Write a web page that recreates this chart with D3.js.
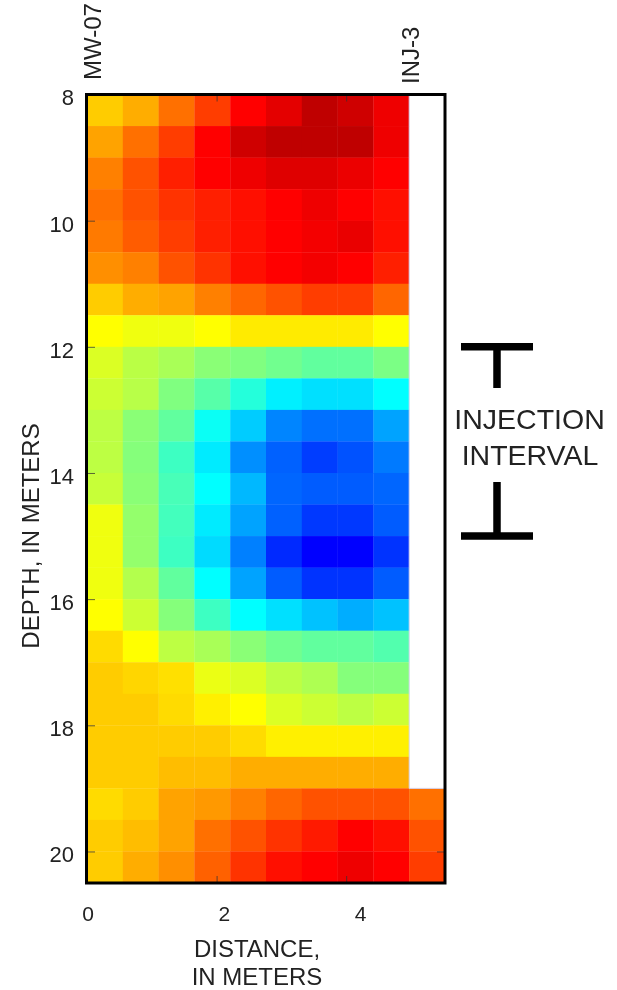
<!DOCTYPE html>
<html><head><meta charset="utf-8">
<script src="https://cdn.jsdelivr.net/npm/d3@7"></script>
<style>html,body{margin:0;padding:0;background:#fff}svg{display:block;filter:blur(0.4px)}text{font-family:"Liberation Sans",Arial,sans-serif}</style>
</head><body><div id="c"></div>
<script>
const xTicks=[0,2,4];
const yTicks=[8,10,12,14,16,18,20];
const depthStart=8, depthStep=0.5;
const colWidth=0.5525;
const rows=[
[80,83,89,94,100,105,112,109,103],
[84,89,94,100,109,112,112,112,103],
[87.5,92,97,100,103,106,106,103.5,100],
[89,92,95,97,98.5,100,103,100,98.5],
[88,91,94,97,98.5,100,102,104,98.5],
[86,87.5,92,95,98.5,100,102,100,97],
[80,83,84,87.5,90,92,94,94,90],
[75,72,72,75,77,77,77,77,75],
[68,61.5,58,52,50,47,44,44,49],
[65,61,50,42,32,23.5,22,22,25],
[62,52,44,27,20,13,11,11,16],
[62,51,37,23,14,9.5,6,8,12],
[64,52,39,25,18,10,9,9,10],
[72,54,38,23,16,9.5,5.5,5.5,9],
[72,54,37,21.5,12.5,4,0,0,5],
[72,60,44,25,16,9,5,5,9],
[75,65,51,37,25,22,19,17,19],
[78.5,75,62,58,52,47,44,44,41],
[80,79,78,71,68,62,59,51,51],
[80,80,78.5,76.5,75,68,65,62,65],
[80,80,80,80,78.5,76.5,76.5,76.5,76.5],
[80,80,81.5,81.5,83,83,83,83,83],
[78.5,80,84,85,87.5,90,92,92,92,89],
[80,81.5,84,89,92,95,97.5,100,98.5,92],
[80,83,86,90.5,95,98.5,100,103,100,94]
];
const rampValues=[0,25,50,75,100,112];
const rampColors=["#0000ff","#00ffff","#80ff80","#ffff00","#ff0000","#bf0000"];
const injectionBars=[12,15];

const W=617,H=990;
const color=d3.scaleLinear().domain(rampValues).range(rampColors).clamp(true);
const x=d3.scaleLinear().domain([0,5.525]).range([87,445]);
const y=d3.scaleLinear().domain([8,20.5]).range([94.5,883]);
// the printed distance numbers sit apart from their tick marks in the source figure
const xLabelPos=d3.scaleLinear().domain([0,4]).range([87.5,360]);
const svg=d3.select("#c").append("svg").attr("width",W).attr("height",H);

rows.forEach((row,r)=>{
  svg.append("g").selectAll("rect").data(row).join("rect")
    .attr("x",(d,i)=>x(i*colWidth))
    .attr("width",(d,i)=>x((i+1)*colWidth)-x(i*colWidth)+(i===row.length-1?0:0.3))
    .attr("y",y(depthStart+r*depthStep))
    .attr("height",y(depthStep)-y(0)+0.3)
    .attr("fill",d=>color(d));
});

// pale edge of the empty cell block
const edge=d3.path();
edge.moveTo(x(9*colWidth),y(8));
edge.lineTo(x(9*colWidth),y(19));
edge.lineTo(x(5.525),y(19));
svg.append("path").attr("d",edge.toString()).attr("fill","none").attr("stroke","#d4d4ee").attr("stroke-width",1);

const ink="#222";
function styleAxis(g,size){
  g.select(".domain").remove();
  g.selectAll("line").attr("stroke","#333").attr("stroke-opacity",.75).attr("stroke-width",1);
  g.selectAll("text").attr("font-size",size).attr("fill",ink);
}
svg.append("g").attr("transform","translate(87,0)")
  .call(d3.axisLeft(y).tickValues(yTicks).tickSizeInner(-8).tickPadding(13).tickFormat(d3.format("d")))
  .call(styleAxis,22)
  .call(g=>g.selectAll("text").attr("dy","0.47em"));
svg.append("g").attr("transform","translate(0,883)")
  .call(d3.axisBottom(x).tickValues(xTicks).tickSizeInner(-7).tickFormat(""))
  .call(styleAxis,21);
svg.append("g").attr("transform","translate(0,902)")
  .call(d3.axisBottom(xLabelPos).tickValues(xTicks).tickSize(0).tickPadding(4).tickFormat(d3.format("d")))
  .call(styleAxis,21);
svg.append("g").attr("transform","translate(0,94.5)")
  .call(d3.axisTop(x).tickValues(xTicks).tickSizeInner(-7).tickFormat(""))
  .call(styleAxis,18);
svg.append("g").attr("transform","translate(445,0)")
  .call(d3.axisRight(y).tickValues([20]).tickSizeInner(-8).tickFormat(""))
  .call(styleAxis,18);

svg.append("rect").attr("x",x(0)-0.5).attr("y",y(8)).attr("width",x(5.525)-x(0)+0.5).attr("height",y(20.5)-y(8))
  .attr("fill","none").attr("stroke","#000").attr("stroke-width",3);

function label(t,px,py,size,rot,anchor){
  svg.append("text").text(t).attr("text-anchor",anchor||"middle").attr("font-size",size).attr("fill",ink)
    .attr("transform",`translate(${px},${py})`+(rot?` rotate(${rot})`:""));
}
label("MW-07",101,80,24,-90,"start");
label("INJ-3",419,84,24,-90,"start");
label("DEPTH, IN METERS",39,536,24,-90);
label("DISTANCE,",257,957,24);
label("IN METERS",257,984.5,24);
label("INJECTION",529.5,429,28.5);
label("INTERVAL",530,465,28.5);

const barX=[461,533], stemX=497;
const ann=svg.append("g").attr("stroke","#000").attr("stroke-width",7.5);
ann.selectAll(".h").data(injectionBars).join("line").attr("class","h")
  .attr("x1",barX[0]).attr("x2",barX[1]).attr("y1",d=>y(d)).attr("y2",d=>y(d));
ann.append("line").attr("x1",stemX).attr("x2",stemX).attr("y1",y(12)).attr("y2",388);
ann.append("line").attr("x1",stemX).attr("x2",stemX).attr("y1",482).attr("y2",y(15));
</script></body></html>
